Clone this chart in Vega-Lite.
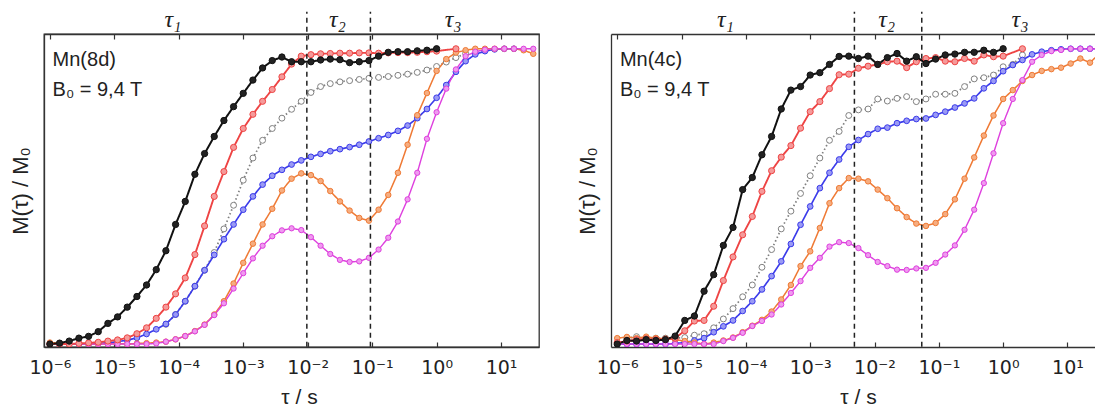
{
"$schema": "https://vega.github.io/schema/vega-lite/v6.json",
"background": "white",
"padding": {"left": 8, "top": 7, "right": 0, "bottom": 0},
"autosize": {"type": "pad"},
"spacing": 36,
"config": {
  "view": {"stroke": null},
  "axis": {"labelFont": "DejaVu Sans", "titleFont": "Liberation Sans", "labelFontSize": 19, "titleFontSize": 21, "titleFontWeight": "normal", "labelColor": "#222222", "titleColor": "#222222", "domainColor": "#333333", "domainWidth": 1.3, "tickColor": "#333333", "tickWidth": 1.2, "grid": false}
},
"datasets": {
  "dL": [{"t": 0.0097}, {"t": 0.094}],
  "dR": [{"t": 0.00487}, {"t": 0.0543}],
  "tL": [{"t": 8.1e-5, "lab": "τ₁"}, {"t": 0.029, "lab": "τ₂"}, {"t": 1.81, "lab": "τ₃"}],
  "tR": [{"t": 4.8e-5, "lab": "τ₁"}, {"t": 0.0155, "lab": "τ₂"}, {"t": 1.83, "lab": "τ₃"}],
  "aL": [{"t": 1.1e-6, "m": 0.963, "lab": "Mn(8d)"}, {"t": 1.1e-6, "m": 0.861, "lab": "B₀ = 9,4 T"}],
  "aR": [{"t": 1.1e-6, "m": 0.963, "lab": "Mn(4c)"}, {"t": 1.1e-6, "m": 0.861, "lab": "B₀ = 9,4 T"}],
  "L": [
    {"s":"c","t":6.31e-5,"m":0.067},{"s":"c","t":8.913e-5,"m":0.1},{"s":"c","t":1.259e-4,"m":0.145},{"s":"c","t":1.778e-4,"m":0.196},{"s":"c","t":2.512e-4,"m":0.25},{"s":"c","t":3.548e-4,"m":0.31},{"s":"c","t":5.012e-4,"m":0.39},{"s":"c","t":7.079e-4,"m":0.47},{"s":"c","t":0.001,"m":0.555},{"s":"c","t":0.001413,"m":0.63},{"s":"c","t":0.001995,"m":0.69},{"s":"c","t":0.002818,"m":0.73},{"s":"c","t":0.003981,"m":0.765},{"s":"c","t":0.005623,"m":0.795},{"s":"c","t":0.007943,"m":0.822},{"s":"c","t":0.01122,"m":0.852},{"s":"c","t":0.01585,"m":0.872},{"s":"c","t":0.02239,"m":0.882},{"s":"c","t":0.03162,"m":0.888},{"s":"c","t":0.04467,"m":0.892},{"s":"c","t":0.0631,"m":0.896},{"s":"c","t":0.08913,"m":0.9},{"s":"c","t":0.1259,"m":0.903},{"s":"c","t":0.1778,"m":0.906},{"s":"c","t":0.2512,"m":0.91},{"s":"c","t":0.3548,"m":0.914},{"s":"c","t":0.5012,"m":0.92},{"s":"c","t":0.7079,"m":0.928},{"s":"c","t":1,"m":0.94},{"s":"c","t":1.413,"m":0.955},{"s":"c","t":1.995,"m":0.97},{"s":"c","t":2.818,"m":0.984},
    {"s":"d","t":1e-6,"m":0},{"s":"d","t":1.413e-6,"m":0},{"s":"d","t":1.995e-6,"m":0},{"s":"d","t":2.818e-6,"m":0},{"s":"d","t":3.981e-6,"m":0},{"s":"d","t":5.623e-6,"m":0.002},{"s":"d","t":7.943e-6,"m":0.004},{"s":"d","t":1.122e-5,"m":0.008},{"s":"d","t":1.585e-5,"m":0.013},{"s":"d","t":2.239e-5,"m":0.021},{"s":"d","t":3.162e-5,"m":0.034},{"s":"d","t":4.467e-5,"m":0.05},{"s":"d","t":6.31e-5,"m":0.068},{"s":"d","t":8.913e-5,"m":0.1},{"s":"d","t":1.259e-4,"m":0.145},{"s":"d","t":1.778e-4,"m":0.196},{"s":"d","t":2.512e-4,"m":0.25},{"s":"d","t":3.548e-4,"m":0.302},{"s":"d","t":5.012e-4,"m":0.355},{"s":"d","t":7.079e-4,"m":0.405},{"s":"d","t":0.001,"m":0.455},{"s":"d","t":0.001413,"m":0.5},{"s":"d","t":0.001995,"m":0.54},{"s":"d","t":0.002818,"m":0.57},{"s":"d","t":0.003981,"m":0.59},{"s":"d","t":0.005623,"m":0.608},{"s":"d","t":0.007943,"m":0.622},{"s":"d","t":0.01122,"m":0.634},{"s":"d","t":0.01585,"m":0.644},{"s":"d","t":0.02239,"m":0.653},{"s":"d","t":0.03162,"m":0.66},{"s":"d","t":0.04467,"m":0.667},{"s":"d","t":0.0631,"m":0.675},{"s":"d","t":0.08913,"m":0.686},{"s":"d","t":0.1259,"m":0.697},{"s":"d","t":0.1778,"m":0.708},{"s":"d","t":0.2512,"m":0.722},{"s":"d","t":0.3548,"m":0.74},{"s":"d","t":0.5012,"m":0.765},{"s":"d","t":0.7079,"m":0.796},{"s":"d","t":1,"m":0.834},{"s":"d","t":1.413,"m":0.877},{"s":"d","t":1.995,"m":0.922},{"s":"d","t":2.818,"m":0.958},{"s":"d","t":3.981,"m":0.981},{"s":"d","t":5.623,"m":0.992},{"s":"d","t":7.943,"m":0.998},{"s":"d","t":11.22,"m":1.0},{"s":"d","t":15.85,"m":1.0},
    {"s":"e","t":1e-6,"m":0.005},{"s":"e","t":1.413e-6,"m":0.003},{"s":"e","t":1.995e-6,"m":0},{"s":"e","t":2.818e-6,"m":0.002},{"s":"e","t":3.981e-6,"m":0},{"s":"e","t":5.623e-6,"m":0},{"s":"e","t":7.943e-6,"m":0},{"s":"e","t":1.122e-5,"m":0.002},{"s":"e","t":1.585e-5,"m":0},{"s":"e","t":2.239e-5,"m":0.002},{"s":"e","t":3.162e-5,"m":0.003},{"s":"e","t":4.467e-5,"m":0.005},{"s":"e","t":6.31e-5,"m":0.008},{"s":"e","t":8.913e-5,"m":0.016},{"s":"e","t":1.259e-4,"m":0.027},{"s":"e","t":1.778e-4,"m":0.044},{"s":"e","t":2.512e-4,"m":0.066},{"s":"e","t":3.548e-4,"m":0.1},{"s":"e","t":5.012e-4,"m":0.145},{"s":"e","t":7.079e-4,"m":0.205},{"s":"e","t":0.001,"m":0.275},{"s":"e","t":0.001413,"m":0.34},{"s":"e","t":0.001995,"m":0.405},{"s":"e","t":0.002818,"m":0.458},{"s":"e","t":0.003981,"m":0.52},{"s":"e","t":0.005623,"m":0.56},{"s":"e","t":0.007943,"m":0.578},{"s":"e","t":0.01122,"m":0.572},{"s":"e","t":0.01585,"m":0.552},{"s":"e","t":0.02239,"m":0.518},{"s":"e","t":0.03162,"m":0.483},{"s":"e","t":0.04467,"m":0.452},{"s":"e","t":0.0631,"m":0.427},{"s":"e","t":0.08913,"m":0.418},{"s":"e","t":0.1259,"m":0.455},{"s":"e","t":0.1778,"m":0.505},{"s":"e","t":0.2512,"m":0.58},{"s":"e","t":0.3548,"m":0.675},{"s":"e","t":0.5012,"m":0.775},{"s":"e","t":0.7079,"m":0.85},{"s":"e","t":1,"m":0.925},{"s":"e","t":1.413,"m":0.965},{"s":"e","t":1.995,"m":0.987},{"s":"e","t":2.818,"m":0.995},{"s":"e","t":3.981,"m":1.0},{"s":"e","t":5.623,"m":1.0},{"s":"e","t":7.943,"m":1.0},{"s":"e","t":11.22,"m":1.0},{"s":"e","t":15.85,"m":1.0},{"s":"e","t":22.39,"m":0.995},{"s":"e","t":31.62,"m":0.983},
    {"s":"f","t":1e-6,"m":0},{"s":"f","t":1.413e-6,"m":0},{"s":"f","t":1.995e-6,"m":0},{"s":"f","t":2.818e-6,"m":0},{"s":"f","t":3.981e-6,"m":0},{"s":"f","t":5.623e-6,"m":0},{"s":"f","t":7.943e-6,"m":0},{"s":"f","t":1.122e-5,"m":0},{"s":"f","t":1.585e-5,"m":0},{"s":"f","t":2.239e-5,"m":0},{"s":"f","t":3.162e-5,"m":0},{"s":"f","t":4.467e-5,"m":0.002},{"s":"f","t":6.31e-5,"m":0.008},{"s":"f","t":8.913e-5,"m":0.016},{"s":"f","t":1.259e-4,"m":0.027},{"s":"f","t":1.778e-4,"m":0.043},{"s":"f","t":2.512e-4,"m":0.065},{"s":"f","t":3.548e-4,"m":0.098},{"s":"f","t":5.012e-4,"m":0.138},{"s":"f","t":7.079e-4,"m":0.188},{"s":"f","t":0.001,"m":0.24},{"s":"f","t":0.001413,"m":0.29},{"s":"f","t":0.001995,"m":0.333},{"s":"f","t":0.002818,"m":0.365},{"s":"f","t":0.003981,"m":0.385},{"s":"f","t":0.005623,"m":0.392},{"s":"f","t":0.007943,"m":0.386},{"s":"f","t":0.01122,"m":0.362},{"s":"f","t":0.01585,"m":0.333},{"s":"f","t":0.02239,"m":0.305},{"s":"f","t":0.03162,"m":0.285},{"s":"f","t":0.04467,"m":0.278},{"s":"f","t":0.0631,"m":0.28},{"s":"f","t":0.08913,"m":0.292},{"s":"f","t":0.1259,"m":0.32},{"s":"f","t":0.1778,"m":0.36},{"s":"f","t":0.2512,"m":0.415},{"s":"f","t":0.3548,"m":0.49},{"s":"f","t":0.5012,"m":0.58},{"s":"f","t":0.7079,"m":0.695},{"s":"f","t":1,"m":0.785},{"s":"f","t":1.413,"m":0.865},{"s":"f","t":1.995,"m":0.93},{"s":"f","t":2.818,"m":0.975},{"s":"f","t":3.981,"m":0.99},{"s":"f","t":5.623,"m":0.997},{"s":"f","t":7.943,"m":1.0},{"s":"f","t":11.22,"m":1.0},{"s":"f","t":15.85,"m":1.0},{"s":"f","t":22.39,"m":1.0},{"s":"f","t":31.62,"m":1.0},
    {"s":"b","t":1e-6,"m":0},{"s":"b","t":1.413e-6,"m":0},{"s":"b","t":1.995e-6,"m":0},{"s":"b","t":2.818e-6,"m":0.002},{"s":"b","t":3.981e-6,"m":0.004},{"s":"b","t":5.623e-6,"m":0.006},{"s":"b","t":7.943e-6,"m":0.01},{"s":"b","t":1.122e-5,"m":0.014},{"s":"b","t":1.585e-5,"m":0.021},{"s":"b","t":2.239e-5,"m":0.035},{"s":"b","t":3.162e-5,"m":0.055},{"s":"b","t":4.467e-5,"m":0.087},{"s":"b","t":6.31e-5,"m":0.125},{"s":"b","t":8.913e-5,"m":0.17},{"s":"b","t":1.259e-4,"m":0.224},{"s":"b","t":1.778e-4,"m":0.303},{"s":"b","t":2.512e-4,"m":0.4},{"s":"b","t":3.548e-4,"m":0.5},{"s":"b","t":5.012e-4,"m":0.584},{"s":"b","t":7.079e-4,"m":0.666},{"s":"b","t":0.001,"m":0.73},{"s":"b","t":0.001413,"m":0.778},{"s":"b","t":0.001995,"m":0.822},{"s":"b","t":0.002818,"m":0.862},{"s":"b","t":0.003981,"m":0.905},{"s":"b","t":0.005623,"m":0.948},{"s":"b","t":0.007943,"m":0.975},{"s":"b","t":0.01122,"m":0.98},{"s":"b","t":0.01585,"m":0.983},{"s":"b","t":0.02239,"m":0.984},{"s":"b","t":0.03162,"m":0.985},{"s":"b","t":0.04467,"m":0.985},{"s":"b","t":0.0631,"m":0.986},{"s":"b","t":0.08913,"m":0.986},{"s":"b","t":0.1259,"m":0.985},{"s":"b","t":0.1778,"m":0.986},{"s":"b","t":0.2512,"m":0.987},{"s":"b","t":0.3548,"m":0.987},{"s":"b","t":0.5012,"m":0.988},{"s":"b","t":0.7079,"m":0.99},{"s":"b","t":1,"m":0.992},{"s":"b","t":1.995,"m":1.0},
    {"s":"a","t":1e-6,"m":0},{"s":"a","t":1.413e-6,"m":0.003},{"s":"a","t":1.995e-6,"m":0.01},{"s":"a","t":2.818e-6,"m":0.02},{"s":"a","t":3.981e-6,"m":0.026},{"s":"a","t":5.623e-6,"m":0.042},{"s":"a","t":7.943e-6,"m":0.07},{"s":"a","t":1.122e-5,"m":0.092},{"s":"a","t":1.585e-5,"m":0.125},{"s":"a","t":2.239e-5,"m":0.161},{"s":"a","t":3.162e-5,"m":0.2},{"s":"a","t":4.467e-5,"m":0.252},{"s":"a","t":6.31e-5,"m":0.316},{"s":"a","t":8.913e-5,"m":0.405},{"s":"a","t":1.259e-4,"m":0.483},{"s":"a","t":1.778e-4,"m":0.575},{"s":"a","t":2.512e-4,"m":0.645},{"s":"a","t":3.548e-4,"m":0.703},{"s":"a","t":5.012e-4,"m":0.757},{"s":"a","t":7.079e-4,"m":0.804},{"s":"a","t":0.001,"m":0.849},{"s":"a","t":0.001413,"m":0.894},{"s":"a","t":0.001995,"m":0.935},{"s":"a","t":0.002818,"m":0.96},{"s":"a","t":0.003981,"m":0.972},{"s":"a","t":0.005623,"m":0.956},{"s":"a","t":0.007943,"m":0.956},{"s":"a","t":0.01122,"m":0.956},{"s":"a","t":0.01585,"m":0.962},{"s":"a","t":0.02239,"m":0.965},{"s":"a","t":0.03162,"m":0.963},{"s":"a","t":0.04467,"m":0.953},{"s":"a","t":0.0631,"m":0.956},{"s":"a","t":0.08913,"m":0.96},{"s":"a","t":0.1259,"m":0.975},{"s":"a","t":0.1778,"m":0.988},{"s":"a","t":0.2512,"m":0.99},{"s":"a","t":0.3548,"m":0.99},{"s":"a","t":0.5012,"m":0.993},{"s":"a","t":0.7079,"m":0.995},{"s":"a","t":1,"m":1.0}
  ],
  "R": [
    {"s":"c","t":1.413e-6,"m":0.02},{"s":"c","t":1.995e-6,"m":0.025},{"s":"c","t":2.818e-6,"m":0.02},{"s":"c","t":3.981e-6,"m":0.02},{"s":"c","t":5.623e-6,"m":0.02},{"s":"c","t":7.943e-6,"m":0.02},{"s":"c","t":1.122e-5,"m":0.022},{"s":"c","t":1.585e-5,"m":0.03},{"s":"c","t":2.239e-5,"m":0.035},{"s":"c","t":3.162e-5,"m":0.055},{"s":"c","t":4.467e-5,"m":0.085},{"s":"c","t":6.31e-5,"m":0.12},{"s":"c","t":8.913e-5,"m":0.16},{"s":"c","t":1.259e-4,"m":0.2},{"s":"c","t":1.778e-4,"m":0.26},{"s":"c","t":2.512e-4,"m":0.32},{"s":"c","t":3.548e-4,"m":0.39},{"s":"c","t":5.012e-4,"m":0.45},{"s":"c","t":7.079e-4,"m":0.51},{"s":"c","t":0.001,"m":0.57},{"s":"c","t":0.001413,"m":0.63},{"s":"c","t":0.001995,"m":0.69},{"s":"c","t":0.002818,"m":0.72},{"s":"c","t":0.003981,"m":0.774},{"s":"c","t":0.005623,"m":0.793},{"s":"c","t":0.007943,"m":0.796},{"s":"c","t":0.01122,"m":0.83},{"s":"c","t":0.01585,"m":0.823},{"s":"c","t":0.02239,"m":0.832},{"s":"c","t":0.03162,"m":0.838},{"s":"c","t":0.04467,"m":0.821},{"s":"c","t":0.0631,"m":0.83},{"s":"c","t":0.08913,"m":0.846},{"s":"c","t":0.1259,"m":0.846},{"s":"c","t":0.1778,"m":0.849},{"s":"c","t":0.2512,"m":0.872},{"s":"c","t":0.3548,"m":0.898},{"s":"c","t":0.5012,"m":0.902},{"s":"c","t":0.7079,"m":0.911},{"s":"c","t":1,"m":0.939},{"s":"c","t":1.413,"m":0.947},{"s":"c","t":1.995,"m":0.979},
    {"s":"d","t":1e-6,"m":0},{"s":"d","t":1.413e-6,"m":0},{"s":"d","t":1.995e-6,"m":0},{"s":"d","t":2.818e-6,"m":0},{"s":"d","t":3.981e-6,"m":0},{"s":"d","t":5.623e-6,"m":0},{"s":"d","t":7.943e-6,"m":0.002},{"s":"d","t":1.122e-5,"m":0.005},{"s":"d","t":1.585e-5,"m":0.012},{"s":"d","t":2.239e-5,"m":0.02},{"s":"d","t":3.162e-5,"m":0.04},{"s":"d","t":4.467e-5,"m":0.06},{"s":"d","t":6.31e-5,"m":0.08},{"s":"d","t":8.913e-5,"m":0.112},{"s":"d","t":1.259e-4,"m":0.145},{"s":"d","t":1.778e-4,"m":0.185},{"s":"d","t":2.512e-4,"m":0.23},{"s":"d","t":3.548e-4,"m":0.28},{"s":"d","t":5.012e-4,"m":0.339},{"s":"d","t":7.079e-4,"m":0.404},{"s":"d","t":0.001,"m":0.466},{"s":"d","t":0.001413,"m":0.528},{"s":"d","t":0.001995,"m":0.58},{"s":"d","t":0.002818,"m":0.625},{"s":"d","t":0.003981,"m":0.668},{"s":"d","t":0.005623,"m":0.691},{"s":"d","t":0.007943,"m":0.711},{"s":"d","t":0.01122,"m":0.729},{"s":"d","t":0.01585,"m":0.733},{"s":"d","t":0.02239,"m":0.748},{"s":"d","t":0.03162,"m":0.756},{"s":"d","t":0.04467,"m":0.762},{"s":"d","t":0.0631,"m":0.764},{"s":"d","t":0.08913,"m":0.776},{"s":"d","t":0.1259,"m":0.787},{"s":"d","t":0.1778,"m":0.801},{"s":"d","t":0.2512,"m":0.815},{"s":"d","t":0.3548,"m":0.832},{"s":"d","t":0.5012,"m":0.866},{"s":"d","t":0.7079,"m":0.891},{"s":"d","t":1,"m":0.924},{"s":"d","t":1.413,"m":0.945},{"s":"d","t":1.995,"m":0.962},{"s":"d","t":2.818,"m":0.981},{"s":"d","t":3.981,"m":0.99},{"s":"d","t":5.623,"m":0.995},{"s":"d","t":7.943,"m":0.998},{"s":"d","t":11.22,"m":1.0},{"s":"d","t":15.85,"m":1.0},{"s":"d","t":22.39,"m":1.0},{"s":"d","t":31.62,"m":1.0},
    {"s":"e","t":1e-6,"m":0.02},{"s":"e","t":1.413e-6,"m":0.024},{"s":"e","t":1.995e-6,"m":0.02},{"s":"e","t":2.818e-6,"m":0.025},{"s":"e","t":3.981e-6,"m":0.02},{"s":"e","t":5.623e-6,"m":0.018},{"s":"e","t":7.943e-6,"m":0.015},{"s":"e","t":1.122e-5,"m":0.01},{"s":"e","t":1.585e-5,"m":0.005},{"s":"e","t":2.239e-5,"m":0},{"s":"e","t":3.162e-5,"m":0.005},{"s":"e","t":4.467e-5,"m":0.012},{"s":"e","t":6.31e-5,"m":0.022},{"s":"e","t":8.913e-5,"m":0.04},{"s":"e","t":1.259e-4,"m":0.062},{"s":"e","t":1.778e-4,"m":0.082},{"s":"e","t":2.512e-4,"m":0.11},{"s":"e","t":3.548e-4,"m":0.151},{"s":"e","t":5.012e-4,"m":0.2},{"s":"e","t":7.079e-4,"m":0.264},{"s":"e","t":0.001,"m":0.314},{"s":"e","t":0.001413,"m":0.393},{"s":"e","t":0.001995,"m":0.477},{"s":"e","t":0.002818,"m":0.528},{"s":"e","t":0.003981,"m":0.562},{"s":"e","t":0.005623,"m":0.56},{"s":"e","t":0.007943,"m":0.551},{"s":"e","t":0.01122,"m":0.523},{"s":"e","t":0.01585,"m":0.494},{"s":"e","t":0.02239,"m":0.46},{"s":"e","t":0.03162,"m":0.43},{"s":"e","t":0.04467,"m":0.408},{"s":"e","t":0.0631,"m":0.4},{"s":"e","t":0.08913,"m":0.41},{"s":"e","t":0.1259,"m":0.44},{"s":"e","t":0.1778,"m":0.49},{"s":"e","t":0.2512,"m":0.56},{"s":"e","t":0.3548,"m":0.632},{"s":"e","t":0.5012,"m":0.706},{"s":"e","t":0.7079,"m":0.774},{"s":"e","t":1,"m":0.83},{"s":"e","t":1.413,"m":0.86},{"s":"e","t":1.995,"m":0.891},{"s":"e","t":2.818,"m":0.911},{"s":"e","t":3.981,"m":0.925},{"s":"e","t":5.623,"m":0.931},{"s":"e","t":7.943,"m":0.936},{"s":"e","t":11.22,"m":0.95},{"s":"e","t":15.85,"m":0.967},{"s":"e","t":22.39,"m":0.953},{"s":"e","t":31.62,"m":0.984},
    {"s":"f","t":1e-6,"m":0},{"s":"f","t":1.413e-6,"m":0},{"s":"f","t":1.995e-6,"m":0},{"s":"f","t":2.818e-6,"m":0},{"s":"f","t":3.981e-6,"m":0},{"s":"f","t":5.623e-6,"m":0},{"s":"f","t":7.943e-6,"m":0},{"s":"f","t":1.122e-5,"m":0},{"s":"f","t":1.585e-5,"m":0},{"s":"f","t":2.239e-5,"m":0},{"s":"f","t":3.162e-5,"m":0},{"s":"f","t":4.467e-5,"m":0.01},{"s":"f","t":6.31e-5,"m":0.021},{"s":"f","t":8.913e-5,"m":0.038},{"s":"f","t":1.259e-4,"m":0.061},{"s":"f","t":1.778e-4,"m":0.078},{"s":"f","t":2.512e-4,"m":0.1},{"s":"f","t":3.548e-4,"m":0.134},{"s":"f","t":5.012e-4,"m":0.173},{"s":"f","t":7.079e-4,"m":0.213},{"s":"f","t":0.001,"m":0.258},{"s":"f","t":0.001413,"m":0.292},{"s":"f","t":0.001995,"m":0.33},{"s":"f","t":0.002818,"m":0.345},{"s":"f","t":0.003981,"m":0.342},{"s":"f","t":0.005623,"m":0.325},{"s":"f","t":0.007943,"m":0.301},{"s":"f","t":0.01122,"m":0.278},{"s":"f","t":0.01585,"m":0.264},{"s":"f","t":0.02239,"m":0.252},{"s":"f","t":0.03162,"m":0.251},{"s":"f","t":0.04467,"m":0.256},{"s":"f","t":0.0631,"m":0.258},{"s":"f","t":0.08913,"m":0.275},{"s":"f","t":0.1259,"m":0.303},{"s":"f","t":0.1778,"m":0.334},{"s":"f","t":0.2512,"m":0.387},{"s":"f","t":0.3548,"m":0.455},{"s":"f","t":0.5012,"m":0.545},{"s":"f","t":0.7079,"m":0.646},{"s":"f","t":1,"m":0.748},{"s":"f","t":1.413,"m":0.83},{"s":"f","t":1.995,"m":0.894},{"s":"f","t":2.818,"m":0.956},{"s":"f","t":3.981,"m":0.979},{"s":"f","t":5.623,"m":0.992},{"s":"f","t":7.943,"m":0.996},{"s":"f","t":11.22,"m":1.0},{"s":"f","t":15.85,"m":1.0},{"s":"f","t":22.39,"m":1.0},{"s":"f","t":31.62,"m":1.0},
    {"s":"b","t":1e-6,"m":0.005},{"s":"b","t":1.413e-6,"m":0.01},{"s":"b","t":1.995e-6,"m":0.015},{"s":"b","t":2.818e-6,"m":0.018},{"s":"b","t":3.981e-6,"m":0.015},{"s":"b","t":5.623e-6,"m":0.016},{"s":"b","t":7.943e-6,"m":0.02},{"s":"b","t":1.122e-5,"m":0.045},{"s":"b","t":1.585e-5,"m":0.078},{"s":"b","t":2.239e-5,"m":0.08},{"s":"b","t":3.162e-5,"m":0.128},{"s":"b","t":4.467e-5,"m":0.215},{"s":"b","t":6.31e-5,"m":0.295},{"s":"b","t":8.913e-5,"m":0.37},{"s":"b","t":1.259e-4,"m":0.432},{"s":"b","t":1.778e-4,"m":0.517},{"s":"b","t":2.512e-4,"m":0.587},{"s":"b","t":3.548e-4,"m":0.633},{"s":"b","t":5.012e-4,"m":0.672},{"s":"b","t":7.079e-4,"m":0.731},{"s":"b","t":0.001,"m":0.787},{"s":"b","t":0.001413,"m":0.821},{"s":"b","t":0.001995,"m":0.865},{"s":"b","t":0.002818,"m":0.912},{"s":"b","t":0.003981,"m":0.914},{"s":"b","t":0.005623,"m":0.934},{"s":"b","t":0.007943,"m":0.941},{"s":"b","t":0.01122,"m":0.947},{"s":"b","t":0.01585,"m":0.956},{"s":"b","t":0.02239,"m":0.958},{"s":"b","t":0.03162,"m":0.936},{"s":"b","t":0.04467,"m":0.956},{"s":"b","t":0.0631,"m":0.967},{"s":"b","t":0.08913,"m":0.97},{"s":"b","t":0.1259,"m":0.958},{"s":"b","t":0.1778,"m":0.956},{"s":"b","t":0.2512,"m":0.967},{"s":"b","t":0.3548,"m":0.958},{"s":"b","t":0.5012,"m":0.979},{"s":"b","t":0.7079,"m":0.973},{"s":"b","t":1,"m":0.975},{"s":"b","t":1.995,"m":1.0},
    {"s":"a","t":1e-6,"m":0},{"s":"a","t":1.413e-6,"m":0.012},{"s":"a","t":1.995e-6,"m":0.01},{"s":"a","t":2.818e-6,"m":0.015},{"s":"a","t":3.981e-6,"m":0.012},{"s":"a","t":5.623e-6,"m":0.015},{"s":"a","t":7.943e-6,"m":0.027},{"s":"a","t":1.122e-5,"m":0.08},{"s":"a","t":1.585e-5,"m":0.095},{"s":"a","t":2.239e-5,"m":0.179},{"s":"a","t":3.162e-5,"m":0.235},{"s":"a","t":4.467e-5,"m":0.334},{"s":"a","t":6.31e-5,"m":0.395},{"s":"a","t":8.913e-5,"m":0.523},{"s":"a","t":1.259e-4,"m":0.564},{"s":"a","t":1.778e-4,"m":0.641},{"s":"a","t":2.512e-4,"m":0.703},{"s":"a","t":3.548e-4,"m":0.796},{"s":"a","t":5.012e-4,"m":0.86},{"s":"a","t":7.079e-4,"m":0.872},{"s":"a","t":0.001,"m":0.911},{"s":"a","t":0.001413,"m":0.919},{"s":"a","t":0.001995,"m":0.947},{"s":"a","t":0.002818,"m":0.974},{"s":"a","t":0.003981,"m":0.975},{"s":"a","t":0.005623,"m":0.967},{"s":"a","t":0.007943,"m":0.975},{"s":"a","t":0.01122,"m":0.947},{"s":"a","t":0.01585,"m":0.97},{"s":"a","t":0.02239,"m":0.984},{"s":"a","t":0.03162,"m":0.958},{"s":"a","t":0.04467,"m":0.973},{"s":"a","t":0.0631,"m":0.95},{"s":"a","t":0.08913,"m":0.965},{"s":"a","t":0.1259,"m":0.979},{"s":"a","t":0.1778,"m":0.982},{"s":"a","t":0.2512,"m":0.988},{"s":"a","t":0.3548,"m":0.988},{"s":"a","t":0.5012,"m":0.995},{"s":"a","t":0.7079,"m":0.988},{"s":"a","t":1,"m":1.0}
  ]
},
"hconcat": [
  {
    "width": 495, "height": 313,
    "view": {"stroke": "#333333", "strokeWidth": 1.3},
    "resolve": {"axis": {"x": "independent"}},
    "layer": [
      {"data": {"name": "L"}, "mark": {"type": "line", "clip": true},
       "encoding": {
         "x": {"field": "t", "type": "quantitative", "scale": {"type": "log", "domain": [8.1e-7, 38.8], "nice": false},
               "axis": {"orient": "bottom", "values": [1e-6, 1e-5, 1e-4, 0.001, 0.01, 0.1, 1, 10], "labelExpr": "datum.value < 5e-6 ? '10⁻⁶' : datum.value < 5e-5 ? '10⁻⁵' : datum.value < 5e-4 ? '10⁻⁴' : datum.value < 5e-3 ? '10⁻³' : datum.value < 5e-2 ? '10⁻²' : datum.value < 0.5 ? '10⁻¹' : datum.value < 5 ? '10⁰' : '10¹'", "tickSize": -5, "labelPadding": 16, "labelFlush": false, "labelOverlap": false, "title": "τ / s", "titlePadding": 9, "titleX": 255}},
         "y": {"field": "m", "type": "quantitative", "scale": {"domain": [-0.01, 1.05], "nice": false, "zero": false},
               "axis": {"orient": "left", "ticks": false, "labels": false, "title": "M(τ) / M₀", "titlePadding": 12, "titleFontSize": 22}},
         "stroke": {"field": "s", "type": "nominal", "scale": {"domain": ["a","b","c","d","e","f"], "range": ["#111111","#ee4444","#808080","#3b3bea","#ef7a35","#de3fde"]}, "legend": null},
         "strokeDash": {"field": "s", "type": "nominal", "scale": {"domain": ["a","b","c","d","e","f"], "range": [[1,0],[1,0],[1.5,2.5],[1,0],[1,0],[1,0]]}, "legend": null},
         "strokeWidth": {"field": "s", "type": "nominal", "scale": {"domain": ["a","b","c","d","e","f"], "range": [2,1.4,1.2,1.4,1.4,1.4]}, "legend": null}
       }},
      {"data": {"name": "L"}, "mark": {"type": "point", "shape": "circle", "filled": true, "clip": true, "strokeWidth": 1, "opacity": 1},
       "encoding": {
         "x": {"field": "t", "type": "quantitative", "axis": null},
         "y": {"field": "m", "type": "quantitative"},
         "fill": {"field": "s", "type": "nominal", "scale": {"domain": ["a","b","c","d","e","f"], "range": ["#222222","#f59a9a","#ffffff","#9a9af5","#f6ad80","#ef9aef"]}, "legend": null},
         "stroke": {"field": "s", "type": "nominal", "legend": null},
         "size": {"field": "s", "type": "nominal", "scale": {"domain": ["a","b","c","d","e","f"], "range": [40,28,22,28,28,28]}, "legend": null}
       }},
      {"data": {"name": "dL"}, "mark": {"type": "rule", "strokeDash": [5, 4], "color": "#222222", "strokeWidth": 1.5},
       "encoding": {"x": {"field": "t", "type": "quantitative", "axis": null}, "y": {"datum": -0.009}, "y2": {"datum": 1.125}}},
      {"data": {"name": "tL"}, "mark": {"type": "text", "font": "Liberation Serif", "fontStyle": "italic", "fontSize": 24, "color": "#222222"},
       "encoding": {"x": {"field": "t", "type": "quantitative", "axis": {"orient": "top", "labels": false, "title": null, "tickSize": -5, "values": [1e-6, 1e-5, 1e-4, 0.001, 0.01, 0.1, 1, 10], "domain": true}},
                    "y": {"datum": 1.098}, "text": {"field": "lab"}}},
      {"data": {"name": "aL"}, "mark": {"type": "text", "align": "left", "font": "Liberation Sans", "fontSize": 20, "color": "#222222"},
       "encoding": {"x": {"field": "t", "type": "quantitative", "axis": null}, "y": {"field": "m", "type": "quantitative"}, "text": {"field": "lab"}}}
    ]
  },
  {
    "width": 484, "height": 313,
    "resolve": {"axis": {"x": "independent"}},
    "layer": [
      {"data": {"name": "R"}, "mark": {"type": "line", "clip": true},
       "encoding": {
         "x": {"field": "t", "type": "quantitative", "scale": {"type": "log", "domain": [8.0e-7, 26.8], "nice": false},
               "axis": {"orient": "bottom", "values": [1e-6, 1e-5, 1e-4, 0.001, 0.01, 0.1, 1, 10], "labelExpr": "datum.value < 5e-6 ? '10⁻⁶' : datum.value < 5e-5 ? '10⁻⁵' : datum.value < 5e-4 ? '10⁻⁴' : datum.value < 5e-3 ? '10⁻³' : datum.value < 5e-2 ? '10⁻²' : datum.value < 0.5 ? '10⁻¹' : datum.value < 5 ? '10⁰' : '10¹'", "tickSize": -5, "labelPadding": 16, "labelFlush": false, "labelOverlap": false, "title": "τ / s", "titlePadding": 9, "titleX": 247}},
         "y": {"field": "m", "type": "quantitative", "scale": {"domain": [-0.01, 1.05], "nice": false, "zero": false},
               "axis": {"orient": "left", "ticks": false, "labels": false, "title": "M(τ) / M₀", "titlePadding": 12, "titleFontSize": 22}},
         "stroke": {"field": "s", "type": "nominal", "scale": {"domain": ["a","b","c","d","e","f"], "range": ["#111111","#ee4444","#808080","#3b3bea","#ef7a35","#de3fde"]}, "legend": null},
         "strokeDash": {"field": "s", "type": "nominal", "scale": {"domain": ["a","b","c","d","e","f"], "range": [[1,0],[1,0],[1.5,2.5],[1,0],[1,0],[1,0]]}, "legend": null},
         "strokeWidth": {"field": "s", "type": "nominal", "scale": {"domain": ["a","b","c","d","e","f"], "range": [2,1.4,1.2,1.4,1.4,1.4]}, "legend": null}
       }},
      {"data": {"name": "R"}, "mark": {"type": "point", "shape": "circle", "filled": true, "clip": true, "strokeWidth": 1, "opacity": 1},
       "encoding": {
         "x": {"field": "t", "type": "quantitative", "axis": null},
         "y": {"field": "m", "type": "quantitative"},
         "fill": {"field": "s", "type": "nominal", "scale": {"domain": ["a","b","c","d","e","f"], "range": ["#222222","#f59a9a","#ffffff","#9a9af5","#f6ad80","#ef9aef"]}, "legend": null},
         "stroke": {"field": "s", "type": "nominal", "legend": null},
         "size": {"field": "s", "type": "nominal", "scale": {"domain": ["a","b","c","d","e","f"], "range": [40,28,22,28,28,28]}, "legend": null}
       }},
      {"data": {"name": "dR"}, "mark": {"type": "rule", "strokeDash": [5, 4], "color": "#222222", "strokeWidth": 1.5},
       "encoding": {"x": {"field": "t", "type": "quantitative", "axis": null}, "y": {"datum": -0.009}, "y2": {"datum": 1.125}}},
      {"data": {"name": "tR"}, "mark": {"type": "text", "font": "Liberation Serif", "fontStyle": "italic", "fontSize": 24, "color": "#222222"},
       "encoding": {"x": {"field": "t", "type": "quantitative", "axis": {"orient": "top", "labels": false, "title": null, "tickSize": -5, "values": [1e-6, 1e-5, 1e-4, 0.001, 0.01, 0.1, 1, 10], "domain": true}},
                    "y": {"datum": 1.098}, "text": {"field": "lab"}}},
      {"data": {"name": "aR"}, "mark": {"type": "text", "align": "left", "font": "Liberation Sans", "fontSize": 20, "color": "#222222"},
       "encoding": {"x": {"field": "t", "type": "quantitative", "axis": null}, "y": {"field": "m", "type": "quantitative"}, "text": {"field": "lab"}}}
    ]
  }
]
}
